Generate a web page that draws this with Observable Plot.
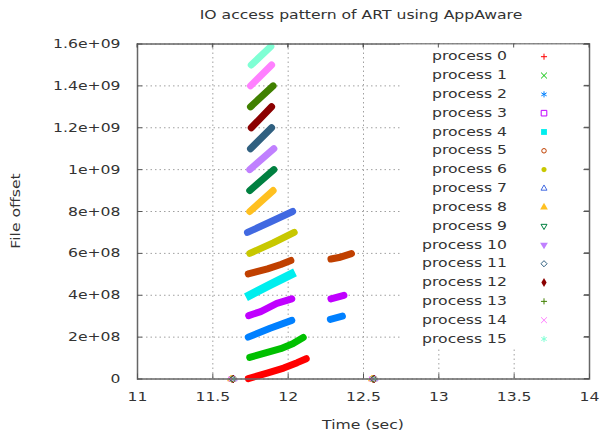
<!DOCTYPE html>
<html>
<head>
<meta charset="utf-8">
<script src="https://cdn.jsdelivr.net/npm/d3@7"></script>
<script src="https://cdn.jsdelivr.net/npm/@observablehq/plot@0.6"></script>
<style>
  body { margin: 0; background: #fff; }
  #chart svg { display: block; font-family: "DejaVu Sans", sans-serif; }
</style>
</head>
<body>
<div id="chart"></div>
<script>
// ---- data -------------------------------------------------------------
const processes = [
  "process 0", "process 1", "process 2", "process 3",
  "process 4", "process 5", "process 6", "process 7",
  "process 8", "process 9", "process 10", "process 11",
  "process 12", "process 13", "process 14", "process 15"
];
const processColors = [
  "#ff0000", "#00c000", "#0080ff", "#c000ff",
  "#00eeee", "#c04000", "#c8c800", "#4169e1",
  "#ffc020", "#008040", "#c080ff", "#306080",
  "#8b0000", "#408000", "#ff80ff", "#7fffd4"
];
const processSymbols = [
  "plus", "times", "asterisk", "square",
  "squareFilled", "circle", "circleFilled", "triangle",
  "triangleFilled", "triangleDown", "triangleDownFilled", "diamond",
  "diamondFilled", "plus", "times", "asterisk"
];

// write streaks: each segment is a run of accesses by one process
const segmentProcess = [0, 1, 2, 2, 3, 3, 4, 5, 5, 6, 7, 8, 9, 10, 11, 12, 13, 14, 15];
const segmentTime = [
  [11.735, 11.86, 11.97, 12.06, 12.12],
  [11.745, 11.85, 11.95, 12.03, 12.10],
  [11.735, 11.88, 12.024],
  [12.28, 12.36],
  [11.738, 11.818, 11.925, 12.024],
  [12.284, 12.37],
  [11.745, 11.88, 12.02],
  [11.735, 11.863, 11.951, 12.018],
  [12.284, 12.337, 12.42],
  [11.745, 11.90, 12.04],
  [11.73, 11.88, 12.03],
  [11.745, 11.90],
  [11.745, 11.905],
  [11.745, 11.905],
  [11.75, 11.89],
  [11.755, 11.89],
  [11.75, 11.90],
  [11.75, 11.89],
  [11.755, 11.885]
];
const segmentOffset = [
  [0.02e8, 0.28e8, 0.52e8, 0.78e8, 0.97e8],
  [1.03e8, 1.25e8, 1.45e8, 1.68e8, 1.98e8],
  [2.0e8, 2.42e8, 2.80e8],
  [2.85e8, 3.0e8],
  [3.03e8, 3.22e8, 3.61e8, 3.83e8],
  [3.83e8, 4.0e8],
  [4.0e8, 4.5e8, 5.0e8],
  [5.02e8, 5.26e8, 5.47e8, 5.66e8],
  [5.73e8, 5.80e8, 5.99e8],
  [6.0e8, 6.5e8, 7.0e8],
  [7.0e8, 7.5e8, 8.0e8],
  [8.0e8, 9.0e8],
  [9.0e8, 10.0e8],
  [10.0e8, 11.0e8],
  [11.0e8, 12.0e8],
  [12.0e8, 13.0e8],
  [13.0e8, 14.0e8],
  [14.0e8, 15.0e8],
  [15.0e8, 15.88e8]
];

// header accesses at offset 0 when each process opens and closes the file
const openTime  = [11.625, 11.63, 11.635, 11.62, 11.63, 11.64, 11.625, 11.635, 11.62, 11.63, 11.64, 11.625, 11.635, 11.63, 11.62, 11.64];
const closeTime = [12.56, 12.565, 12.57, 12.555, 12.565, 12.575, 12.56, 12.57, 12.555, 12.565, 12.575, 12.56, 12.57, 12.565, 12.555, 12.575];

const xTicks = [11, 11.5, 12, 12.5, 13, 13.5, 14];
const xTickLabels = ["11", "11.5", "12", "12.5", "13", "13.5", "14"];
const yTicks = [0, 2e8, 4e8, 6e8, 8e8, 10e8, 12e8, 14e8, 16e8];
const yTickLabels = ["0", "2e+08", "4e+08", "6e+08", "8e+08", "1e+09", "1.2e+09", "1.4e+09", "1.6e+09"];

const titleText = "IO access pattern of ART using AppAware";
const xLabel = "Time (sec)";
const yLabel = "File offset";

// ---- layout -----------------------------------------------------------
const W = 600, H = 433;
const mL = 137, mR = 11, mT = 43.5, mB = 54.5;
const innerW = W - mL - mR, innerH = H - mT - mB;
const font = "DejaVu Sans";
const fontSize = 12.5;
const textColor = "#333";
const stretchX = 1.25;

// [d3 symbol, filled, rotation, key size]
const symbolDefs = {
  plus: [d3.symbolPlus, false, 0, 14],
  times: [d3.symbolTimes, false, 0, 24],
  asterisk: [d3.symbolAsterisk, false, 0, 26],
  square: [d3.symbolSquare2, false, 0, 40],
  squareFilled: [d3.symbolSquare, true, 0, 34],
  circle: [d3.symbolCircle, false, 0, 16],
  circleFilled: [d3.symbolCircle, true, 0, 20],
  triangle: [d3.symbolTriangle2, false, 0, 26],
  triangleFilled: [d3.symbolTriangle, true, 0, 26],
  triangleDown: [d3.symbolTriangle2, false, 180, 26],
  triangleDownFilled: [d3.symbolTriangle, true, 180, 26],
  diamond: [d3.symbolDiamond2, false, 0, 24],
  diamondFilled: [d3.symbolDiamond, true, 0, 24]
};

// ---- tables built from the arrays ------------------------------------
const vertices = segmentProcess.flatMap((p, s) =>
  segmentTime[s].map((t, j) => ({
    process: processes[p], segment: s, time: t, offset: segmentOffset[s][j],
    wide: processSymbols[p] === "squareFilled"
  }))
);
const headerHits = processes.flatMap((p, i) => [
  {process: p, time: openTime[i], offset: 0},
  {process: p, time: closeTime[i], offset: 0}
]);

const gridStyle = {stroke: "#a0a0a0", strokeOpacity: 1, strokeWidth: 1, strokeDasharray: "1.5,3"};
const tickStyle = {stroke: "#555", strokeWidth: 1};

const chart = Plot.plot({
  width: W, height: H,
  marginLeft: mL, marginRight: mR, marginTop: mT, marginBottom: mB,
  style: {fontFamily: font, fontSize: fontSize + "px", color: textColor, background: "#fff"},
  x: {domain: [11, 14], axis: null},
  y: {domain: [0, 1.6e9], axis: null},
  color: {domain: processes, range: processColors},
  symbol: {domain: processes, range: processSymbols.map(s => symbolDefs[s][0])},
  marks: [
    Plot.gridX(xTicks, gridStyle),
    Plot.gridY(yTicks, gridStyle),
    Plot.line(vertices.filter(d => !d.wide), {
      x: "time", y: "offset", z: "segment", stroke: "process",
      strokeWidth: 7, strokeLinecap: "round", strokeLinejoin: "round"
    }),
    Plot.line(vertices.filter(d => d.wide), {
      x: "time", y: "offset", z: "segment", stroke: "process",
      strokeWidth: 8.5, strokeLinecap: "square", strokeLinejoin: "round"
    }),
    Plot.dot(headerHits, {x: "time", y: "offset", symbol: "process", stroke: "process", r: 2.4, strokeWidth: 1}),
    Plot.frame({stroke: "#666", strokeWidth: 1.5}),
    Plot.tickX(xTicks, {x: d => d, insetTop: innerH - 5, ...tickStyle}),
    Plot.tickX(xTicks, {x: d => d, insetBottom: innerH - 4, ...tickStyle}),
    Plot.tickY(yTicks, {y: d => d, insetRight: innerW - 5, ...tickStyle}),
    Plot.tickY(yTicks, {y: d => d, insetLeft: innerW - 5, ...tickStyle}),
    Plot.axisX(xTicks, {
      tickSize: 0, tickPadding: 13, label: null,
      tickFormat: d => xTickLabels[xTicks.indexOf(d)], fill: textColor
    }),
    Plot.axisY(yTicks, {
      tickSize: 0, tickPadding: 17, label: null,
      tickFormat: d => yTickLabels[yTicks.indexOf(d)], fill: textColor
    })
  ]
});

document.getElementById("chart").appendChild(chart);

// ---- title, axis labels and key box ----------------------------------
const svg = d3.select(chart);
const plotCenterX = mL + innerW / 2;

svg.append("text")
  .attr("x", plotCenterX - 2).attr("y", 19)
  .attr("text-anchor", "middle").attr("fill", textColor)
  .attr("font-family", font).attr("font-size", fontSize)
  .text(titleText);

svg.append("text")
  .attr("x", plotCenterX).attr("y", 429)
  .attr("text-anchor", "middle").attr("fill", textColor)
  .attr("font-family", font).attr("font-size", fontSize)
  .text(xLabel);

svg.append("text")
  .attr("transform", `translate(20,${mT + innerH / 2}) rotate(-90)`)
  .attr("text-anchor", "middle").attr("fill", textColor)
  .attr("font-family", font).attr("font-size", fontSize)
  .text(yLabel);

// key: opaque box over the grid in the upper right
const key = svg.append("g");
key.append("rect")
  .attr("x", 400).attr("y", mT + 1)
  .attr("width", 183).attr("height", 303)
  .attr("fill", "#fff");

const rowY0 = 56.7, rowStep = 18.82, labelRight = 507, symbolX = 544;
processes.forEach((p, i) => {
  const y = rowY0 + i * rowStep;
  key.append("text")
    .attr("x", labelRight).attr("y", y + 3.6)
    .attr("text-anchor", "end").attr("fill", textColor)
    .attr("font-family", font).attr("font-size", fontSize)
    .text(p);
  const [type, filled, rot, size] = symbolDefs[processSymbols[i]];
  key.append("path")
    .attr("d", d3.symbol(type, size)())
    .attr("transform", `translate(${symbolX},${y}) rotate(${rot})`)
    .attr("fill", filled ? processColors[i] : "none")
    .attr("stroke", filled ? "none" : processColors[i])
    .attr("stroke-width", 1);
});

// redraw the upper/right ticks on top of the key box
const xs = d3.scaleLinear([11, 14], [mL, mL + innerW]);
const ys = d3.scaleLinear([0, 1.6e9], [mT + innerH, mT]);
xTicks.forEach(t => key.append("line")
  .attr("x1", xs(t)).attr("x2", xs(t)).attr("y1", mT).attr("y2", mT + 4)
  .attr("stroke", "#555"));
yTicks.forEach(t => key.append("line")
  .attr("x1", mL + innerW - 5).attr("x2", mL + innerW).attr("y1", ys(t)).attr("y2", ys(t))
  .attr("stroke", "#555"));

// the text face renders wide; stretch every label horizontally
chart.querySelectorAll("text").forEach(t => {
  const len = t.getComputedTextLength();
  if (len > 0) {
    t.setAttribute("textLength", (len * stretchX).toFixed(1));
    t.setAttribute("lengthAdjust", "spacingAndGlyphs");
  }
});
</script>
</body>
</html>
